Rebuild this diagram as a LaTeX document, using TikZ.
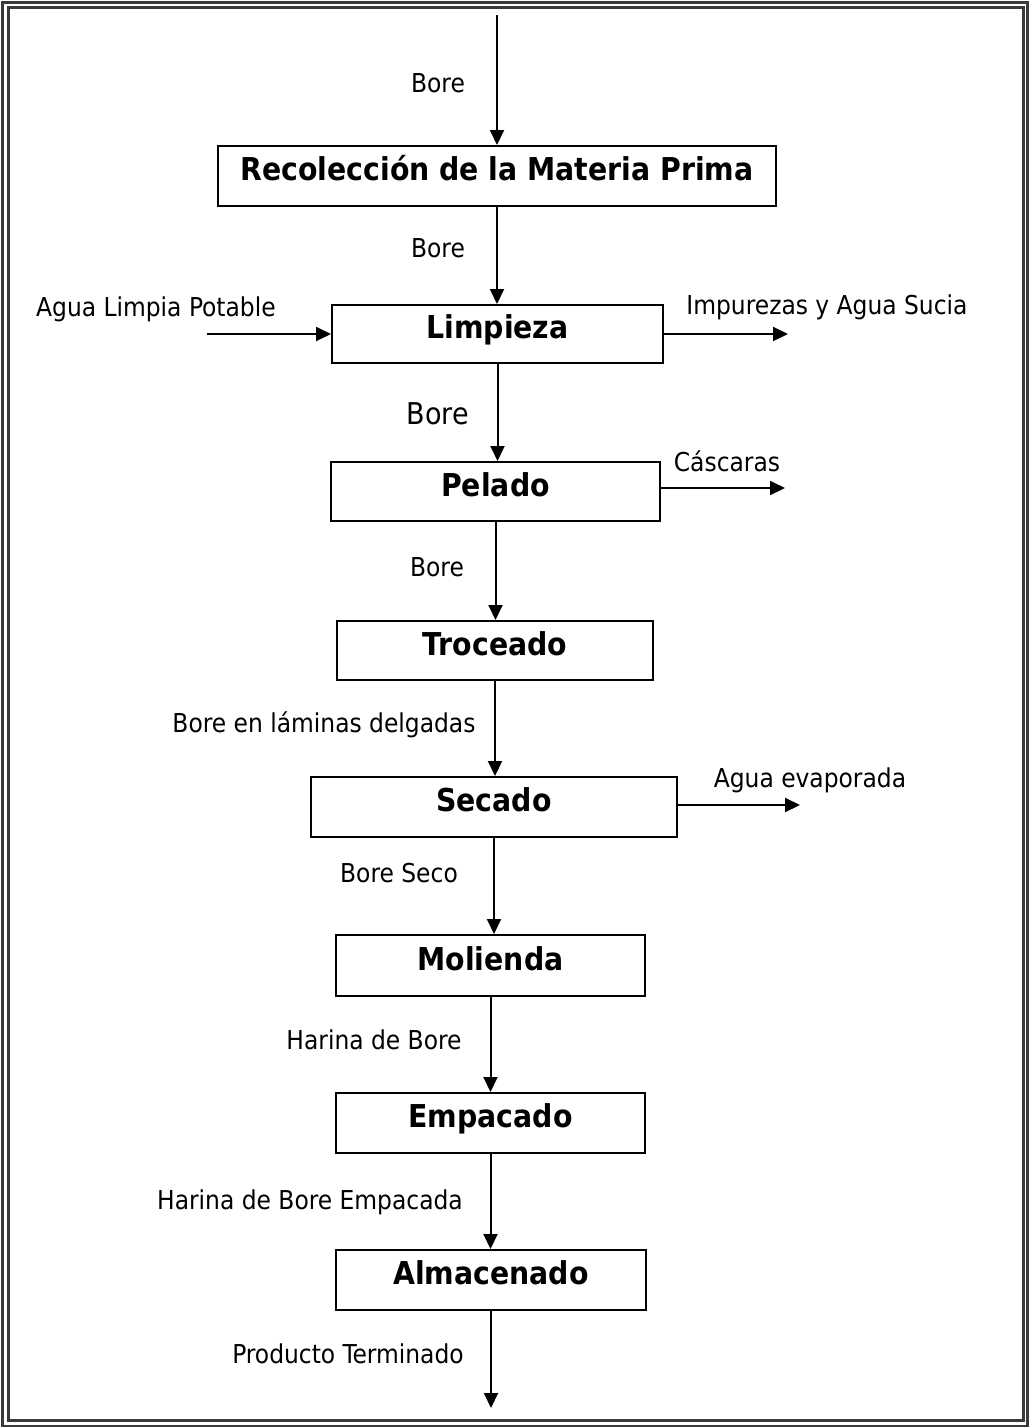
\documentclass[tikz,border=0pt]{standalone}
\usepackage{fontspec}
\setmainfont{DejaVu Sans Condensed}
\usetikzlibrary{arrows.meta}
\definecolor{framegray}{RGB}{58,58,58}
\begin{document}
\begin{tikzpicture}[x=1pt,y=-1pt,
  stage/.style={draw=black, line width=2pt, inner sep=0pt,
    font=\fontsize{31.5}{31.5}\selectfont\bfseries,
    text height=23pt, text depth=14pt},
  flowlabel/.style={inner sep=0pt, anchor=base, font=\fontsize{26}{26}\selectfont},
  arr/.style={line width=2pt, -{Triangle[length=15pt,width=14pt]}},
  frame/.style={draw=framegray, line width=3pt}]

\useasboundingbox (0,0) rectangle (1029,1427);
\fill[white] (0,0) rectangle (1029,1427);

% double page frame
\draw[frame] (2,2) rectangle (1027,1426);
\draw[frame] (8,7.5) rectangle (1023.5,1420.5);

% process stages
\node[stage, minimum width=558pt, minimum height=60pt] (rec)  at (497,176)    {Recolección de la Materia Prima};
\node[stage, minimum width=331pt, minimum height=58pt] (limp) at (497.5,334)  {Limpieza};
\node[stage, minimum width=329pt, minimum height=59pt] (pel)  at (495.5,491.5){Pelado};
\node[stage, minimum width=316pt, minimum height=59pt] (troc) at (495,650.5)  {Troceado};
\node[stage, minimum width=366pt, minimum height=60pt] (sec)  at (494,807)    {Secado};
\node[stage, minimum width=309pt, minimum height=61pt] (mol)  at (490.5,965.5){Molienda};
\node[stage, minimum width=309pt, minimum height=60pt] (emp)  at (490.5,1123) {Empacado};
\node[stage, minimum width=310pt, minimum height=60pt] (alm)  at (491,1280)   {Almacenado};

% free ends of the flows
\coordinate (src)    at (497,15);
\coordinate (sink)   at (493,1408);
\coordinate (waterin) at (207,334);
\coordinate (dirty)  at (788,334);
\coordinate (peel)   at (785,488);
\coordinate (vapour) at (800,805);

% main line
\draw[arr] (src) -- (rec.north);
\draw[arr] (rec.south) -- (rec.south |- limp.north);
\draw[arr] (limp.south) -- (limp.south |- pel.north);
\draw[arr] (pel.south) -- (pel.south |- troc.north);
\draw[arr] (troc.south) -- (troc.south |- sec.north);
\draw[arr] (sec.south) -- (sec.south |- mol.north);
\draw[arr] (mol.south) -- (mol.south |- emp.north);
\draw[arr] (emp.south) -- (emp.south |- alm.north);
\draw[arr] (alm.south) -- (alm.south |- sink);

% side streams
\draw[arr] (waterin) -- (limp.west);
\draw[arr] (limp.east) -- (dirty);
\draw[arr] (pel.east |- peel) -- (peel);
\draw[arr] (sec.east |- vapour) -- (vapour);

% flow labels
\node[flowlabel] (l1)  at (438,92)   {Bore};
\node[flowlabel] (l2)  at (438,257)  {Bore};
\node[flowlabel, font=\fontsize{30}{30}\selectfont] (l3) at (438,424) {Bore};
\node[flowlabel] (l4)  at (437,576)  {Bore};
\node[flowlabel] (l5)  at (324,732)  {Bore en láminas delgadas};
\node[flowlabel] (l6)  at (399,882)  {Bore Seco};
\node[flowlabel] (l7)  at (374,1049) {Harina de Bore};
\node[flowlabel] (l8)  at (310,1209) {Harina de Bore Empacada};
\node[flowlabel] (l9)  at (348,1363) {Producto Terminado};
\node[flowlabel] (l10) at (156,316)  {Agua Limpia Potable};
\node[flowlabel] (l11) at (827,314)  {Impurezas y Agua Sucia};
\node[flowlabel] (l12) at (727,471)  {Cáscaras};
\node[flowlabel] (l13) at (810,787)  {Agua evaporada};
\end{tikzpicture}
\end{document}
